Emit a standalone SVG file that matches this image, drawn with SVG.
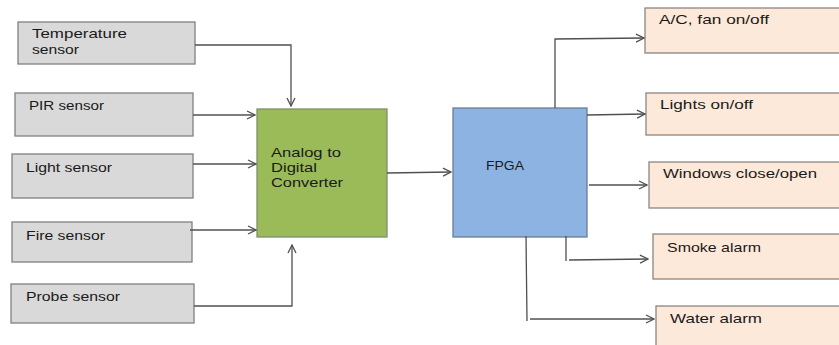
<svg xmlns="http://www.w3.org/2000/svg" width="839" height="345" viewBox="0 0 839 345">
<style>
.sensor{fill:#d9d9d9;stroke:#808080;stroke-width:1.3}
.adc{fill:#9bbb59;stroke:#7f8f6f;stroke-width:1.3}
.fpga{fill:#8db3e2;stroke:#6a7d95;stroke-width:1.3}
.out{fill:#fde9d9;stroke:#8c8582;stroke-width:1.3}
text{font-family:"Liberation Sans","Open Sans",sans-serif;font-size:12.6px;fill:#1a1a1a}
.c{fill:none;stroke:#505050;stroke-width:1.3}
</style>
<defs>
<marker id="ah" markerWidth="10" markerHeight="10" refX="9" refY="5" orient="auto" markerUnits="userSpaceOnUse">
<path d="M1,1 L9,5 L1,9" fill="none" stroke="#505050" stroke-width="1.3"/>
</marker>
</defs>
<rect width="839" height="345" fill="#ffffff"/>
<g id="temperature-sensor"><rect class="sensor" x="18" y="22" width="177" height="42"/><text x="32" y="38" textLength="95" lengthAdjust="spacingAndGlyphs">Temperature</text><text x="32" y="54" textLength="47" lengthAdjust="spacingAndGlyphs">sensor</text></g>
<g id="pir-sensor"><rect class="sensor" x="15" y="93" width="178" height="43"/><text x="29" y="110" textLength="75" lengthAdjust="spacingAndGlyphs">PIR sensor</text></g>
<g id="light-sensor"><rect class="sensor" x="12" y="154" width="181" height="44"/><text x="26" y="172" textLength="86" lengthAdjust="spacingAndGlyphs">Light sensor</text></g>
<g id="fire-sensor"><rect class="sensor" x="12" y="222" width="180" height="40"/><text x="26" y="240" textLength="79" lengthAdjust="spacingAndGlyphs">Fire sensor</text></g>
<g id="probe-sensor"><rect class="sensor" x="11" y="284" width="183" height="39"/><text x="26" y="301" textLength="94" lengthAdjust="spacingAndGlyphs">Probe sensor</text></g>
<g id="adc"><rect class="adc" x="257" y="109" width="130" height="128"/><text x="271" y="157" textLength="70" lengthAdjust="spacingAndGlyphs">Analog to</text><text x="271" y="172" textLength="46" lengthAdjust="spacingAndGlyphs">Digital</text><text x="271" y="187" textLength="72" lengthAdjust="spacingAndGlyphs">Converter</text></g>
<g id="fpga"><rect class="fpga" x="453" y="108" width="134" height="129"/><text x="486" y="170" textLength="38" lengthAdjust="spacingAndGlyphs">FPGA</text></g>
<g id="ac-fan"><rect class="out" x="645" y="8" width="200" height="45"/><text x="659" y="24" textLength="110" lengthAdjust="spacingAndGlyphs">A/C, fan on/off</text></g>
<g id="lights"><rect class="out" x="646" y="93" width="200" height="42"/><text x="660" y="109" textLength="93" lengthAdjust="spacingAndGlyphs">Lights on/off</text></g>
<g id="windows"><rect class="out" x="649" y="162" width="200" height="46"/><text x="663" y="178" textLength="154" lengthAdjust="spacingAndGlyphs">Windows close/open</text></g>
<g id="smoke-alarm"><rect class="out" x="653" y="234" width="200" height="45"/><text x="667" y="252" textLength="94" lengthAdjust="spacingAndGlyphs">Smoke alarm</text></g>
<g id="water-alarm"><rect class="out" x="656" y="306" width="200" height="50"/><text x="670" y="323" textLength="92" lengthAdjust="spacingAndGlyphs">Water alarm</text></g>
<g id="connectors">
<polyline class="c" points="195,45 291,45 291,106" marker-end="url(#ah)"/>
<line class="c" x1="193" y1="115" x2="255" y2="115" marker-end="url(#ah)"/>
<line class="c" x1="193" y1="164" x2="256" y2="164" marker-end="url(#ah)"/>
<line class="c" x1="190" y1="230" x2="256" y2="230" marker-end="url(#ah)"/>
<polyline class="c" points="194,306 292,306 292,245" marker-end="url(#ah)"/>
<line class="c" x1="387" y1="173" x2="451" y2="172" marker-end="url(#ah)"/>
<polyline class="c" points="555,108 555,39 644,38" marker-end="url(#ah)"/>
<line class="c" x1="587" y1="115" x2="645" y2="114" marker-end="url(#ah)"/>
<line class="c" x1="589" y1="185" x2="647" y2="185" marker-end="url(#ah)"/>
<line class="c" x1="566" y1="236" x2="566" y2="261"/>
<line class="c" x1="569" y1="260" x2="648" y2="259" marker-end="url(#ah)"/>
<line class="c" x1="526" y1="236" x2="527" y2="321"/>
<line class="c" x1="530" y1="319" x2="654" y2="319" marker-end="url(#ah)"/>
</g>
</svg>
